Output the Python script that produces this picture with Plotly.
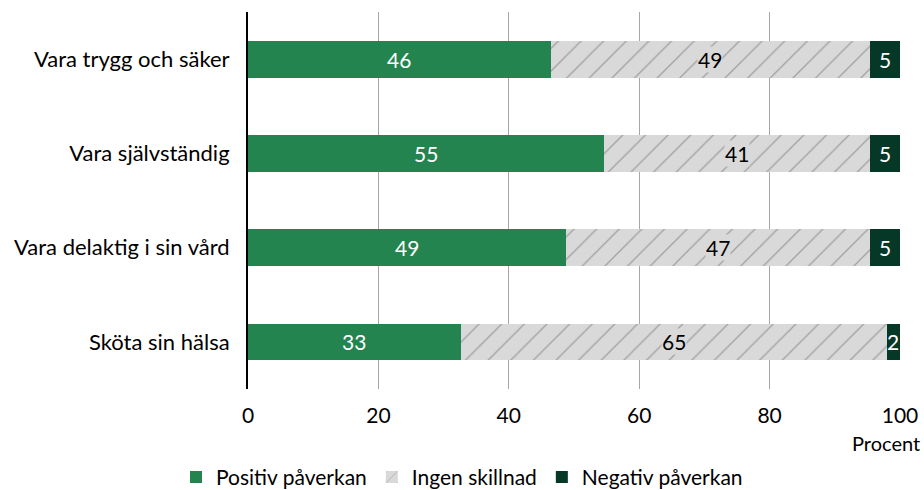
import plotly.graph_objects as go

categories = ["Vara trygg och säker", "Vara självständig", "Vara delaktig i sin vård", "Sköta sin hälsa"]
positiv = [46.4, 54.6, 48.8, 32.6]
ingen = [49.0, 40.8, 46.6, 65.4]
negativ = [4.6, 4.6, 4.6, 2.0]
xticks = [0, 20, 40, 60, 80, 100]

FONT = "Lato"
GREEN = "#23844F"
DARK = "#063828"
LIGHT = "#d9d9d9"
FS = 21

fig = go.Figure()
fig.add_trace(go.Bar(
    y=categories, x=positiv, orientation="h", name="Positiv påverkan",
    marker=dict(color=GREEN, line=dict(width=0)),
))
fig.add_trace(go.Bar(
    y=categories, x=ingen, orientation="h", name="Ingen skillnad",
    marker=dict(color=LIGHT, line=dict(width=0),
                pattern=dict(shape="/", bgcolor=LIGHT, fgcolor="#666666", size=16, solidity=0.08)),
))
fig.add_trace(go.Bar(
    y=categories, x=negativ, orientation="h", name="Negativ påverkan",
    marker=dict(color=DARK, line=dict(width=0)),
))

for c, p, g, n in zip(categories, positiv, ingen, negativ):
    fig.add_annotation(x=p / 2, y=c, xref="x", yref="y", text=f"{p:.0f}",
                       showarrow=False, font=dict(size=FS, color="white", family=FONT))
    fig.add_annotation(x=p + g / 2, y=c, xref="x", yref="y", text=f"{g:.0f}",
                       showarrow=False, bgcolor=LIGHT, borderpad=0,
                       font=dict(size=FS, color="black", family=FONT))
    fig.add_annotation(x=p + g + n / 2, y=c, xref="x", yref="y", text=f"{n:.0f}",
                       showarrow=False, font=dict(size=FS, color="white", family=FONT))

fig.add_annotation(x=1.0, y=-0.143, xref="paper", yref="paper", xanchor="right", yanchor="middle",
                   text="Procent", showarrow=False, xshift=22,
                   font=dict(size=20, color="black", family=FONT))

fig.update_layout(
    width=924, height=490, barmode="stack", bargap=0.61,
    plot_bgcolor="white", paper_bgcolor="white",
    margin=dict(l=248, r=24, t=12, b=101, autoexpand=False),
    font=dict(family=FONT, size=FS, color="black"),
    showlegend=True,
    legend=dict(orientation="h", xref="container", x=0.5, xanchor="center",
                yref="container", y=0.026, yanchor="middle",
                font=dict(size=21, family=FONT), traceorder="normal",
                itemwidth=30, tracegroupgap=0),
)
fig.update_xaxes(range=[0, 100], tickvals=xticks, showgrid=True, gridcolor="#a6a6a6", gridwidth=1,
                 zeroline=False, showline=False, ticks="", ticklabelstandoff=12,
                 tickfont=dict(size=FS, family=FONT), automargin=False, fixedrange=True)
fig.update_yaxes(categoryorder="array", categoryarray=categories[::-1],
                 showline=True, linecolor="black", linewidth=2, ticks="", ticklabelstandoff=12,
                 tickfont=dict(size=22, family=FONT), automargin=False, fixedrange=True)

fig.write_html("out.html")
